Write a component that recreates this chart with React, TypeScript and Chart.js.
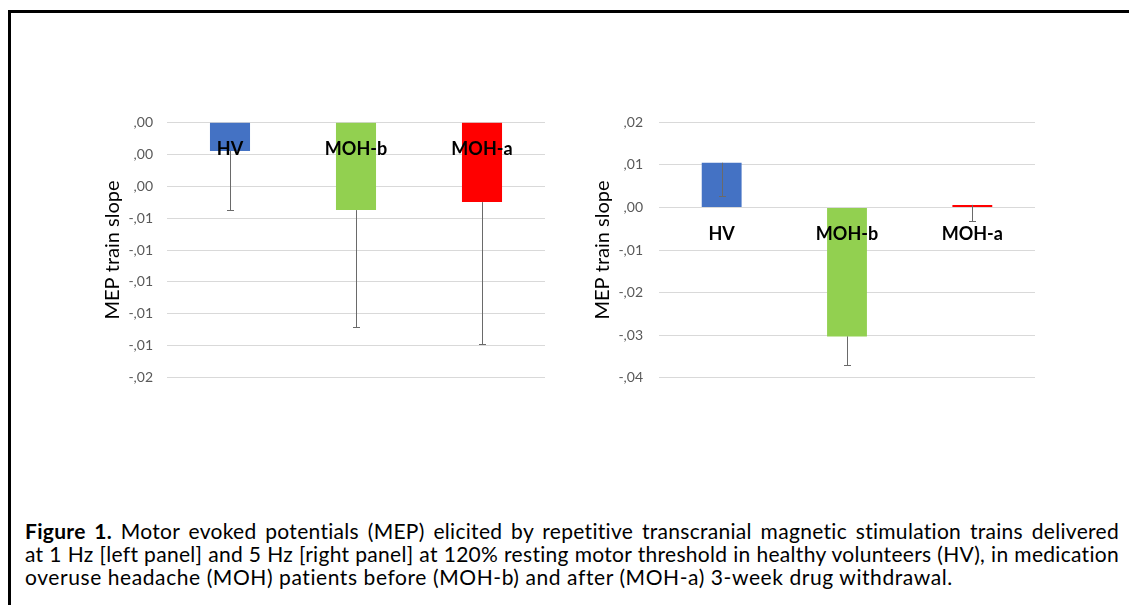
import React, { useEffect, useRef } from "react";
import { Chart, registerables } from "chart.js";

Chart.register(...registerables);

// ---------- data ----------
const categories = ["HV", "MOH-b", "MOH-a"];
const barColors = ["#4472C4", "#92D050", "#FF0000"];

// left panel (1 Hz)
const leftValues = [-0.0018, -0.0055, -0.005];
const leftErrors = [0.0037, 0.0073, 0.0089];
const leftYTickLabels = [",00", ",00", ",00", "-,01", "-,01", "-,01", "-,01", "-,01", "-,02"]; // top to bottom
const leftYMin = -0.016;
const leftYMax = 0;
const leftYStep = 0.002;

// right panel (5 Hz)
const rightValues = [0.0105, -0.0303, 0.0006];
const rightErrors = [0.0079, 0.0067, 0.0039];
const rightYTickLabels = [",02", ",01", ",00", "-,01", "-,02", "-,03", "-,04"]; // top to bottom
const rightYMin = -0.04;
const rightYMax = 0.02;
const rightYStep = 0.01;

const yAxisTitle = "MEP train slope";

const captionLines = [
  "Motor evoked potentials (MEP) elicited by repetitive transcranial magnetic stimulation trains delivered",
  "at 1 Hz [left panel] and 5 Hz [right panel] at 120% resting motor threshold in healthy volunteers (HV), in medication",
  "overuse headache (MOH) patients before (MOH-b) and after (MOH-a) 3-week drug withdrawal.",
];
const captionLead = "Figure 1.";

const FONT = "Lato, 'Open Sans', sans-serif";

const errorBarPlugin = {
  id: "errorBars",
  afterDatasetsDraw(chart: any, _args: any, opts: any) {
    const errs: number[] = opts.errors || [];
    const meta = chart.getDatasetMeta(0);
    const ys = chart.scales.y;
    const vals = chart.data.datasets[0].data as number[];
    const ctx = chart.ctx;
    ctx.save();
    ctx.strokeStyle = opts.color || "#666";
    ctx.lineWidth = 1;
    meta.data.forEach((bar: any, i: number) => {
      const v = vals[i];
      const e = errs[i];
      if (e == null) return;
      const x = Math.round(bar.x) + 0.5;
      const y0 = ys.getPixelForValue(v);
      const y1 = Math.round(ys.getPixelForValue(v - e)) + 0.5;
      ctx.beginPath();
      ctx.moveTo(x, y0);
      ctx.lineTo(x, y1);
      ctx.moveTo(x - 3.5, y1);
      ctx.lineTo(x + 3.5, y1);
      ctx.stroke();
    });
    ctx.restore();
  },
};

type PanelProps = {
  values: number[];
  errors: number[];
  tickLabels: string[];
  min: number;
  max: number;
  step: number;
  left: number;
  yAxisWidth: number;
  tickGap: number;
};

function Panel(p: PanelProps) {
  const ref = useRef<HTMLCanvasElement | null>(null);
  useEffect(() => {
    if (!ref.current) return;
    const chart = new Chart(ref.current, {
      type: "bar",
      data: {
        labels: categories,
        datasets: [
          {
            data: p.values,
            backgroundColor: barColors,
            borderWidth: 0,
            barPercentage: 0.318,
            categoryPercentage: 1,
          },
        ],
      },
      options: {
        animation: false,
        responsive: false,
        devicePixelRatio: 1,
        layout: { padding: { left: 0, top: 22.3, right: 25, bottom: 22.3 } },
        plugins: {
          legend: { display: false },
          tooltip: { enabled: false },
          errorBars: { errors: p.errors, color: "#6a6a6a" },
        } as any,
        scales: {
          x: {
            type: "category",
            position: { y: 0 } as any,
            grid: { display: false },
            border: { display: false },
            ticks: {
              z: 1,
              color: "#000000",
              padding: 8,
              maxRotation: 0,
              autoSkip: false,
              font: { family: FONT, size: 18, weight: "bold" },
            },
          },
          y: {
            type: "linear",
            min: p.min,
            max: p.max,
            afterFit: (scale: any) => {
              scale.width = p.yAxisWidth;
            },
            grid: {
              color: "#d9d9d9",
              lineWidth: 1,
              drawTicks: true,
              tickLength: p.tickGap - 2,
              tickColor: "rgba(0,0,0,0)",
            },
            border: { display: false },
            ticks: {
              stepSize: p.step,
              padding: 2,
              color: "#595959",
              font: { family: FONT, size: 14 },
              callback: (_v: any, i: number, ticks: any[]) => p.tickLabels[ticks.length - 1 - i],
            },
            title: {
              display: true,
              text: yAxisTitle,
              color: "#000000",
              font: { family: FONT, size: 20 },
              padding: { top: 11, bottom: 0 },
            },
          },
        },
      },
      plugins: [errorBarPlugin],
    });
    return () => chart.destroy();
  }, []);
  return (
    <canvas
      ref={ref}
      width={480}
      height={300}
      style={{ position: "absolute", left: p.left, top: 100, width: 480, height: 300 }}
    />
  );
}

export default function App() {
  return (
    <div
      style={{
        position: "fixed",
        left: 0,
        top: 0,
        width: 1129,
        height: 605,
        overflow: "hidden",
        background: "#ffffff",
        fontFamily: FONT,
      }}
    >
      <div
        style={{
          position: "absolute",
          left: 8,
          top: 10,
          width: 1129,
          height: 620,
          borderTop: "3px solid #000",
          borderLeft: "3px solid #000",
        }}
      />
      <Panel
        values={leftValues}
        errors={leftErrors}
        tickLabels={leftYTickLabels}
        min={leftYMin}
        max={leftYMax}
        step={leftYStep}
        left={90}
        yAxisWidth={77}
        tickGap={14}
      />
      <Panel
        values={rightValues}
        errors={rightErrors}
        tickLabels={rightYTickLabels}
        min={rightYMin}
        max={rightYMax}
        step={rightYStep}
        left={580}
        yAxisWidth={79}
        tickGap={16}
      />
      <div
        style={{
          position: "absolute",
          left: 25,
          top: 519,
          width: 1094,
          fontSize: 21,
          lineHeight: "23px",
          letterSpacing: "0.3px",
          color: "#000",
        }}
      >
        {captionLines.map((line, i) => (
          <div
            key={i}
            style={{
              textAlign: i < 2 ? "justify" : "left",
              textAlignLast: i < 2 ? "justify" : "left",
              whiteSpace: "nowrap",
              letterSpacing: i === 2 ? "0.58px" : undefined,
            } as any}
          >
            {i === 0 ? (
              <>
                <b>{captionLead}</b> {line}
              </>
            ) : (
              line
            )}
          </div>
        ))}
      </div>
    </div>
  );
}
